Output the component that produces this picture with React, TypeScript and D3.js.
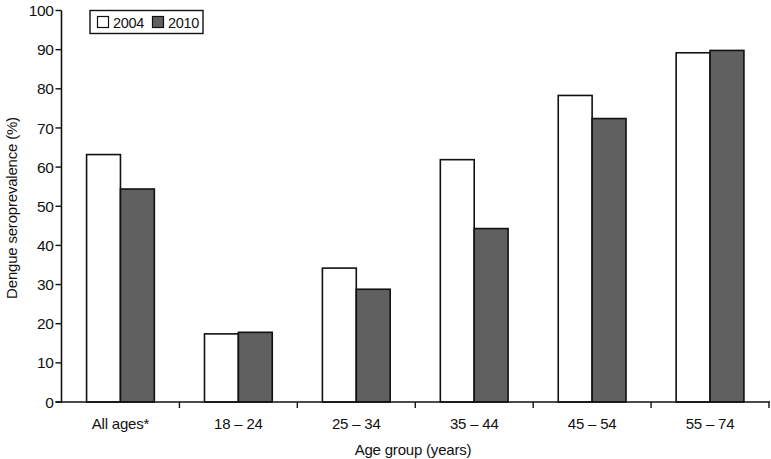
import React from "react";
import * as d3 from "d3";

const categories = ["All ages*", "18 – 24", "25 – 34", "35 – 44", "45 – 54", "55 – 74"];
const seriesNames = ["2004", "2010"];
const values2004 = [63.2, 17.4, 34.2, 61.9, 78.3, 89.2];
const values2010 = [54.4, 17.8, 28.8, 44.3, 72.4, 89.8];
const yTicks = [0, 10, 20, 30, 40, 50, 60, 70, 80, 90, 100];
const fills = ["#ffffff", "#606060"];

const W = 771;
const H = 459;
const FONT = "'Liberation Sans', Arial, Helvetica, sans-serif";

export default function App() {
  const left = 61.5;
  const right = 769;
  const top = 10.5;
  const bottom = 402;

  const x0 = d3.scaleBand<string>().domain(categories).range([left, right]).paddingInner(0).paddingOuter(0);
  const x1 = d3
    .scaleBand<string>()
    .domain(seriesNames)
    .range([0, x0.bandwidth()])
    .paddingInner(0)
    .paddingOuter(0.74);
  const y = d3.scaleLinear().domain([0, 100]).range([bottom, top]);

  const data = [values2004, values2010];
  const boundaries = categories.map((c) => (x0(c) as number) + x0.bandwidth());

  return (
    <svg
      width={W}
      height={H}
      style={{ position: "absolute", left: 0, top: 0, background: "#fff" }}
      fontFamily={FONT}
    >
      {/* bars */}
      {categories.map((c, i) =>
        seriesNames.map((s, j) => {
          const v = data[j][i];
          return (
            <rect
              key={c + s}
              x={(x0(c) as number) + (x1(s) as number)}
              y={y(v)}
              width={x1.bandwidth()}
              height={y(0) - y(v)}
              fill={fills[j]}
              stroke="#111"
              strokeWidth={1.6}
            />
          );
        })
      )}

      {/* y axis */}
      <line x1={left} x2={left} y1={top} y2={bottom + 1} stroke="#111" strokeWidth={1.6} />
      {yTicks.map((t) => (
        <g key={t}>
          <line x1={left - 6} x2={left} y1={y(t)} y2={y(t)} stroke="#111" strokeWidth={1.4} />
          <text
            x={left - 8}
            y={y(t)}
            dy="0.36em"
            textAnchor="end"
            fontSize={15.5}
            fill="#111"
            letterSpacing={-0.4}
          >
            {t}
          </text>
        </g>
      ))}

      {/* x axis */}
      <line x1={left - 6} x2={right + 1} y1={bottom} y2={bottom} stroke="#111" strokeWidth={1.6} />
      {boundaries.map((b, i) => (
        <line key={i} x1={b} x2={b} y1={bottom} y2={bottom + 6} stroke="#111" strokeWidth={1.4} />
      ))}
      {categories.map((c) => (
        <text
          key={c}
          x={(x0(c) as number) + x0.bandwidth() / 2}
          y={429}
          textAnchor="middle"
          fontSize={15}
          fill="#111"
          letterSpacing={-0.2}
        >
          {c}
        </text>
      ))}

      {/* axis titles */}
      <text x={413} y={455} textAnchor="middle" fontSize={15} fill="#111" letterSpacing={-0.2}>
        Age group (years)
      </text>
      <text
        transform={`translate(17,208) rotate(-90)`}
        textAnchor="middle"
        fontSize={15}
        fill="#111"
        letterSpacing={-0.2}
      >
        Dengue seroprevalence (%)
      </text>

      {/* legend */}
      <rect x={90} y={10.5} width={113} height={23} fill="#fff" stroke="#111" strokeWidth={1.4} />
      {seriesNames.map((s, j) => (
        <g key={s}>
          <rect
            x={97.5 + j * 55}
            y={16.5}
            width={11}
            height={11}
            fill={fills[j]}
            stroke="#111"
            strokeWidth={1.2}
          />
          <text x={113 + j * 55} y={27.5} fontSize={14.5} fill="#111" letterSpacing={-0.3}>
            {s}
          </text>
        </g>
      ))}
    </svg>
  );
}
